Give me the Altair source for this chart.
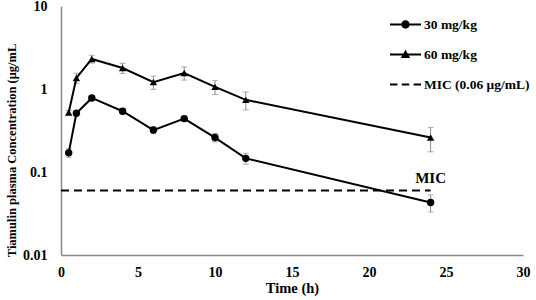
import altair as alt
import pandas as pd

# ---- data ----
time_h = [0.5, 1, 2, 4, 6, 8, 10, 12, 24]
conc_30 = [0.17, 0.51, 0.78, 0.54, 0.32, 0.44, 0.26, 0.146, 0.043]
sd_30 = [0.02, 0.03, 0.05, 0.04, 0.03, 0.03, 0.03, 0.022, 0.01]
conc_60 = [0.52, 1.36, 2.3, 1.79, 1.21, 1.56, 1.06, 0.74, 0.26]
sd_60 = [0.03, 0.19, 0.25, 0.25, 0.22, 0.28, 0.2, 0.18, 0.085]
series_names = ["30 mg/kg", "60 mg/kg"]
mic_value = 0.06
mic_end = 24
mic_legend = "MIC (0.06 μg/mL)"
x_ticks = [0, 5, 10, 15, 20, 25, 30]
y_ticks = [0.01, 0.1, 1, 10]

FONT = "Liberation Serif"

rows = []
for name, conc, sd in [(series_names[0], conc_30, sd_30), (series_names[1], conc_60, sd_60)]:
    for t, c, s in zip(time_h, conc, sd):
        rows.append({"series": name, "t": t, "c": c, "lo": c - s, "hi": c + s})
df = pd.DataFrame(rows)
df30 = df[df.series == series_names[0]]
df60 = df[df.series == series_names[1]]
mic_df = pd.DataFrame({"t0": [0], "t1": [mic_end], "c": [mic_value], "label": ["MIC"]})
legend_labels = [series_names[0], series_names[1], mic_legend]
legend_df = pd.DataFrame({"lab": legend_labels})

# custom legend symbols: line + marker, dashed line
p_circle = ("M-1,-0.065L1,-0.065L1,0.065L-1,0.065Z "
            "M0.27,0A0.27,0.27 0 1 1 -0.27,0A0.27,0.27 0 1 1 0.27,0Z")
p_tri = ("M-1,-0.065L1,-0.065L1,0.065L-1,0.065Z "
         "M0,-0.3L0.3,0.22L-0.3,0.22Z")
p_dash = ("M-1,-0.065L-0.52,-0.065L-0.52,0.065L-1,0.065Z "
          "M-0.24,-0.065L0.24,-0.065L0.24,0.065L-0.24,0.065Z "
          "M0.52,-0.065L1,-0.065L1,0.065L0.52,0.065Z")

xs = alt.Scale(domain=[0, 30])
ys = alt.Scale(type="log", domain=[0.01, 10])

x_axis = alt.Axis(values=x_ticks, grid=False, ticks=False, domainColor="#898989",
                  domainWidth=1.5, labelFont=FONT, labelFontWeight="bold",
                  labelFontSize=14, labelColor="black", labelPadding=10,
                  labelFlush=False, title="Time (h)", titleFont=FONT,
                  titleFontWeight="bold", titleFontSize=14.5, titleColor="black",
                  titlePadding=2)
y_axis = alt.Axis(values=y_ticks, format=".2~f", grid=False, ticks=False,
                  domainColor="#898989", domainWidth=1.5, labelFont=FONT,
                  labelFontWeight="bold", labelFontSize=14, labelColor="black",
                  labelPadding=14, labelFlush=False,
                  title="Tiamulin plasma Concentration (μg/mL", titleFont=FONT,
                  titleFontWeight="bold", titleFontSize=12.5, titleColor="black",
                  titlePadding=4, titleY=144)

X = alt.X("t:Q", scale=xs, axis=x_axis)
Y = alt.Y("c:Q", scale=ys, axis=y_axis)

err = alt.Chart(df).mark_rule(color="#8c8c8c", strokeWidth=1).encode(
    x=alt.X("t:Q", scale=xs), y=alt.Y("lo:Q", scale=ys), y2="hi:Q")
cap_lo = alt.Chart(df).mark_tick(color="#8c8c8c", orient="horizontal", size=6, thickness=1).encode(
    x=alt.X("t:Q", scale=xs), y=alt.Y("lo:Q", scale=ys))
cap_hi = alt.Chart(df).mark_tick(color="#8c8c8c", orient="horizontal", size=6, thickness=1).encode(
    x=alt.X("t:Q", scale=xs), y=alt.Y("hi:Q", scale=ys))

lines = alt.Chart(df).mark_line(color="black", strokeWidth=2).encode(
    x=X, y=Y, detail="series:N")
pts30 = alt.Chart(df30).mark_point(shape="circle", filled=True, color="black", size=55, opacity=1).encode(
    x=alt.X("t:Q", scale=xs), y=alt.Y("c:Q", scale=ys))
pts60 = alt.Chart(df60).mark_point(shape="triangle-up", filled=True, color="black", size=55, opacity=1).encode(
    x=alt.X("t:Q", scale=xs), y=alt.Y("c:Q", scale=ys))

mic = alt.Chart(mic_df).mark_rule(color="black", strokeWidth=2, strokeDash=[8, 5]).encode(
    x=alt.X("t0:Q", scale=xs), x2="t1:Q", y=alt.Y("c:Q", scale=ys))
mic_text = alt.Chart(mic_df).mark_text(font=FONT, fontWeight="bold", fontSize=15,
                                       color="black", baseline="bottom", dy=-4).encode(
    x=alt.X("t1:Q", scale=xs), y=alt.Y("c:Q", scale=ys), text="label:N")

legend_layer = alt.Chart(legend_df).mark_point(filled=True, color="black", opacity=0, size=1).encode(
    shape=alt.Shape("lab:N", scale=alt.Scale(domain=legend_labels, range=[p_circle, p_tri, p_dash]),
                    legend=alt.Legend(title=None, orient="none", legendX=329, legendY=3,
                                      symbolSize=961, symbolOpacity=1, symbolFillColor="black",
                                      symbolStrokeWidth=0, symbolStrokeColor="black",
                                      labelFont=FONT, labelFontWeight="bold", labelFontSize=13.5,
                                      labelColor="black", labelOffset=3, rowPadding=8,
                                      labelLimit=200)))

chart = alt.layer(err, cap_lo, cap_hi, lines, pts30, pts60, mic, mic_text, legend_layer).properties(
    width=462, height=249,
    autosize=alt.AutoSizeParams(type="none"),
    padding={"left": 61, "top": 6, "right": 13, "bottom": 45},
    background="white",
).configure_view(stroke=None)

chart.save("out.html", embed_options={"renderer": "svg", "actions": False})
